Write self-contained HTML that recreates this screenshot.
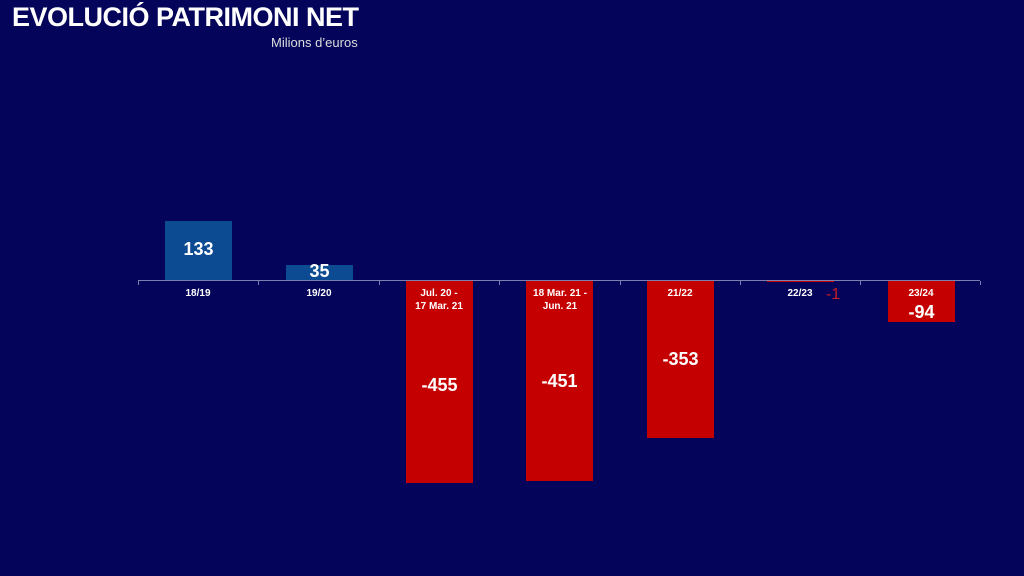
<!DOCTYPE html>
<html><head><style>
body{margin:0;width:1024px;height:576px;background:#04055a;overflow:hidden;position:relative;font-family:"Liberation Sans",sans-serif;color:#fff}
.a{position:absolute}
.t{left:12px;top:2px;font-size:27px;font-weight:bold;letter-spacing:-0.5px}
.s{left:271px;top:35px;font-size:13px;color:#ddd}
.b{position:absolute;width:67px}
.bl{background:#0c4a92}.rd{background:#c40000}
.l{position:absolute;width:120px;text-align:center;font-size:10px;font-weight:bold;line-height:13px}
.v{position:absolute;width:67px;text-align:center;font-size:18px;font-weight:bold}
.tk{position:absolute;top:281px;width:1px;height:4px;background:#7a7fb0}
</style></head><body>
<div class="a t">EVOLUCIÓ PATRIMONI NET</div>
<div class="a s">Milions d’euros</div>
<div class="b bl" style="left:165px;top:221px;height:60px"></div>
<div class="b bl" style="left:286px;top:265px;height:16px"></div>
<div class="b rd" style="left:406px;top:281px;height:202px"></div>
<div class="b rd" style="left:526px;top:281px;height:200px"></div>
<div class="b rd" style="left:647px;top:281px;height:157px"></div>
<div class="b rd" style="left:767px;top:280px;height:2px"></div>
<div class="b rd" style="left:888px;top:281px;height:41px"></div>
<div class="a" style="left:138px;top:280px;width:842px;height:1px;background:#7a7fb0"></div>
<div class="tk" style="left:138px"></div><div class="tk" style="left:258px"></div><div class="tk" style="left:379px"></div><div class="tk" style="left:499px"></div><div class="tk" style="left:620px"></div><div class="tk" style="left:740px"></div><div class="tk" style="left:860px"></div><div class="tk" style="left:980px"></div>
<div class="l" style="left:138px;top:287px">18/19</div>
<div class="l" style="left:259px;top:287px">19/20</div>
<div class="l" style="left:379px;top:287px">Jul. 20 -<br>17 Mar. 21</div>
<div class="l" style="left:500px;top:287px">18 Mar. 21 -<br>Jun. 21</div>
<div class="l" style="left:620px;top:287px">21/22</div>
<div class="l" style="left:740px;top:287px">22/23</div>
<div class="l" style="left:861px;top:287px">23/24</div>
<div class="v" style="left:165px;top:239px">133</div>
<div class="v" style="left:286px;top:261px">35</div>
<div class="v" style="left:406px;top:375px">-455</div>
<div class="v" style="left:526px;top:371px">-451</div>
<div class="v" style="left:647px;top:349px">-353</div>
<div class="a" style="left:826px;top:286px;font-size:16px;color:#c42020">-1</div>
<div class="v" style="left:888px;top:302px">-94</div>
</body></html>
